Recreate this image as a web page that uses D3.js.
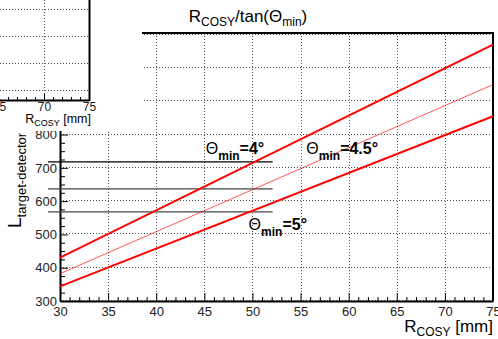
<!DOCTYPE html>
<html>
<head>
<meta charset="utf-8">
<script src="https://cdn.jsdelivr.net/npm/d3@7"></script>
<style>
    body { margin: 0; background: #fff; }
    svg { display: block; font-family: 'Liberation Sans', Arial, sans-serif; }
</style>
</head>
<body>
<div id="chart"></div>
<script>
'use strict';

// main chart data
var xTicks = [30, 35, 40, 45, 50, 55, 60, 65, 70, 75];
var yTicks = [300, 400, 500, 600, 700, 800, 900, 1000, 1100];
var theta4 = [[30, 430], [75, 1070]];
var theta45 = [[30, 382], [75, 950]];
var theta5 = [[30, 344], [75, 855]];
var refLevels = [718, 637, 568];
var refRange = [28.75, 52.1];
var angleLabels = [
    {name: '4', r: 45.15, l: 741},
    {name: '4.5', r: 55.6, l: 741},
    {name: '5', r: 49.6, l: 513}
];

// partly hidden inset from the previous pad
var insetXTicks = [65, 70, 75];
var insetYTicks = [400, 500, 600, 700];

var width = 498;
var height = 339;
var frame = {left: 60, right: 493, top: 33, bottom: 301};

var svg = d3.select('#chart').append('svg')
    .attr('width', width)
    .attr('height', height);

var xScale = d3.scaleLinear()
    .domain([30, 75])
    .range([frame.left, frame.right]);
var yScale = d3.scaleLinear()
    .domain([300, 1105])
    .range([frame.bottom, frame.top]);

// grid
var grid = svg.append('g');
grid.selectAll('.vgrid')
    .data(xTicks)
    .enter()
    .append('line')
    .attr('class', 'vgrid')
    .attr('x1', function(d) { return Math.round(xScale(d)) + 0.5; })
    .attr('x2', function(d) { return Math.round(xScale(d)) + 0.5; })
    .attr('y1', frame.top)
    .attr('y2', frame.bottom);
grid.selectAll('.hgrid')
    .data(yTicks)
    .enter()
    .append('line')
    .attr('class', 'hgrid')
    .attr('x1', frame.left)
    .attr('x2', frame.right)
    .attr('y1', function(d) { return Math.round(yScale(d)) - 0.5; })
    .attr('y2', function(d) { return Math.round(yScale(d)) - 0.5; });
grid.selectAll('line')
    .attr('stroke', '#555')
    .attr('stroke-width', 1)
    .attr('stroke-dasharray', '1,2');

// axes, ROOT style: ticks inside the frame
var xMinor = d3.range(30, 75.01, 1).filter(function(d) { return d % 5 !== 0; });
var yMinor = d3.range(300, 1105, 25).filter(function(d) { return d % 100 !== 0; });

var xAxisG = svg.append('g')
    .attr('transform', 'translate(0,' + frame.bottom + ')')
    .call(d3.axisBottom(xScale).tickValues(xTicks).tickSizeInner(-8).tickSizeOuter(0).tickPadding(6));
svg.append('g')
    .attr('transform', 'translate(0,' + frame.bottom + ')')
    .call(d3.axisBottom(xScale).tickValues(xMinor).tickSizeInner(-4).tickSizeOuter(0).tickFormat(''))
    .select('.domain').remove();

var yAxisG = svg.append('g')
    .attr('transform', 'translate(' + frame.left + ',0)')
    .call(d3.axisLeft(yScale).tickValues(yTicks).tickSizeInner(-8).tickSizeOuter(0).tickPadding(3));
svg.append('g')
    .attr('transform', 'translate(' + frame.left + ',0)')
    .call(d3.axisLeft(yScale).tickValues(yMinor).tickSizeInner(-5).tickSizeOuter(0).tickFormat(''))
    .select('.domain').remove();

svg.selectAll('.tick line').attr('stroke', '#000').attr('stroke-width', 1);
svg.selectAll('.domain').attr('stroke', '#000').attr('stroke-width', 2);
xAxisG.attr('font-family', null);
yAxisG.attr('font-family', null);
xAxisG.selectAll('text').attr('font-size', 13).attr('fill', '#222');
yAxisG.selectAll('text').attr('font-size', 13).attr('fill', '#222');

// frame top and right
svg.append('path')
    .attr('d', 'M' + frame.left + ',' + frame.top + 'H' + frame.right + 'V' + frame.bottom)
    .attr('fill', 'none')
    .attr('stroke', '#000')
    .attr('stroke-width', 2);

// reference levels
svg.selectAll('.ref')
    .data(refLevels)
    .enter()
    .append('line')
    .attr('x1', xScale(refRange[0]))
    .attr('x2', xScale(refRange[1]))
    .attr('y1', function(d) { return yScale(d); })
    .attr('y2', function(d) { return yScale(d); })
    .attr('stroke', function(d, i) { return i === 0 ? '#000' : '#444'; })
    .attr('stroke-width', 1.3);

// L = R / tan(theta) lines
var line = d3.line()
    .x(function(d) { return xScale(d[0]); })
    .y(function(d) { return yScale(d[1]); });
var series = [
    {points: theta4, w: 2, op: 1},
    {points: theta45, w: 1, op: 0.65},
    {points: theta5, w: 2, op: 1}
];
svg.selectAll('.series')
    .data(series)
    .enter()
    .append('path')
    .attr('d', function(d) { return line(d.points); })
    .attr('fill', 'none')
    .attr('stroke', '#ff0000')
    .attr('stroke-opacity', function(d) { return d.op; })
    .attr('stroke-width', function(d) { return d.w; });

// angle labels
var lab = svg.selectAll('.angle')
    .data(angleLabels)
    .enter()
    .append('text')
    .attr('x', function(d) { return xScale(d.r); })
    .attr('y', function(d) { return yScale(d.l); })
    .attr('font-size', 16)
    .attr('font-weight', 'bold')
    .attr('fill', '#000');
lab.append('tspan').attr('font-weight', 'normal').text('\u0398');
lab.append('tspan').attr('font-size', 12).attr('dy', 6).text('min');
lab.append('tspan').attr('dy', -6).text(function(d) { return '=' + d.name + '\u00b0'; });

// title
var title = svg.append('text')
    .attr('x', 248)
    .attr('y', 22)
    .attr('text-anchor', 'middle')
    .attr('font-size', 17)
    .attr('fill', '#000');
title.append('tspan').text('R');
title.append('tspan').attr('font-size', 12).attr('dy', 4).text('COSY');
title.append('tspan').attr('dy', -4).text('/tan(\u0398');
title.append('tspan').attr('font-size', 12).attr('dy', 4).text('min');
title.append('tspan').attr('dy', -4).text(')');

// x axis title
var xTitle = svg.append('text')
    .attr('x', 493)
    .attr('y', 332)
    .attr('text-anchor', 'end')
    .attr('font-size', 17)
    .attr('fill', '#000');
xTitle.append('tspan').text('R');
xTitle.append('tspan').attr('font-size', 12).attr('dy', 4).text('COSY');
xTitle.append('tspan').attr('dy', -4).text(' [mm]');

// y axis title
var yTitle = svg.append('text')
    .attr('transform', 'translate(21,228) rotate(-90)')
    .attr('font-size', 19)
    .attr('fill', '#000');
yTitle.append('tspan').text('L');
yTitle.append('tspan').attr('font-size', 13).attr('dy', 5).text('target-detector');
yTitle.append('tspan').attr('dy', -5).text(' [mm]');

// inset pad drawn over the top-left corner
var inset = svg.append('g');
inset.append('rect')
    .attr('x', 0)
    .attr('y', 0)
    .attr('width', 142)
    .attr('height', 131)
    .attr('fill', '#fff');

var insetX = d3.scaleLinear().domain([65, 75]).range([-1, 89]);
var insetY = d3.scaleLinear().domain([363, 733]).range([100, 0]);

var insetGrid = inset.append('g');
insetGrid.selectAll('.h')
    .data(insetYTicks)
    .enter()
    .append('line')
    .attr('class', 'h')
    .attr('x1', 0)
    .attr('x2', 89)
    .attr('y1', function(d) { return Math.round(insetY(d)) + 0.5; })
    .attr('y2', function(d) { return Math.round(insetY(d)) + 0.5; });
insetGrid.selectAll('.v')
    .data([70])
    .enter()
    .append('line')
    .attr('class', 'v')
    .attr('x1', function(d) { return Math.round(insetX(d)) + 0.5; })
    .attr('x2', function(d) { return Math.round(insetX(d)) + 0.5; })
    .attr('y1', 0)
    .attr('y2', 100);
insetGrid.selectAll('line')
    .attr('stroke', '#555')
    .attr('stroke-width', 1)
    .attr('stroke-dasharray', '1,2');

var insetMinor = d3.range(65, 75.01, 1).filter(function(d) { return d % 5 !== 0; });
var insetAxis = inset.append('g')
    .attr('transform', 'translate(0,100)')
    .call(d3.axisBottom(insetX).tickValues(insetXTicks).tickSizeInner(-6).tickSizeOuter(0).tickPadding(2));
inset.append('g')
    .attr('transform', 'translate(0,100)')
    .call(d3.axisBottom(insetX).tickValues(insetMinor).tickSizeInner(-3).tickSizeOuter(0).tickFormat(''))
    .select('.domain').remove();
insetAxis.attr('font-family', null);
insetAxis.selectAll('text').attr('font-size', 12).attr('fill', '#222');
inset.selectAll('.tick line').attr('stroke', '#000');
inset.selectAll('.domain').attr('stroke', '#000').attr('stroke-width', 2);
inset.append('line')
    .attr('x1', 89.5)
    .attr('x2', 89.5)
    .attr('y1', 0)
    .attr('y2', 101)
    .attr('stroke', '#000')
    .attr('stroke-width', 2);

var insetTitle = inset.append('text')
    .attr('x', 91)
    .attr('y', 123)
    .attr('text-anchor', 'end')
    .attr('font-size', 12.5)
    .attr('fill', '#000');
insetTitle.append('tspan').text('R');
insetTitle.append('tspan').attr('font-size', 9).attr('dy', 3).text('COSY');
insetTitle.append('tspan').attr('dy', -3).text(' [mm]');
</script>
</body>
</html>
